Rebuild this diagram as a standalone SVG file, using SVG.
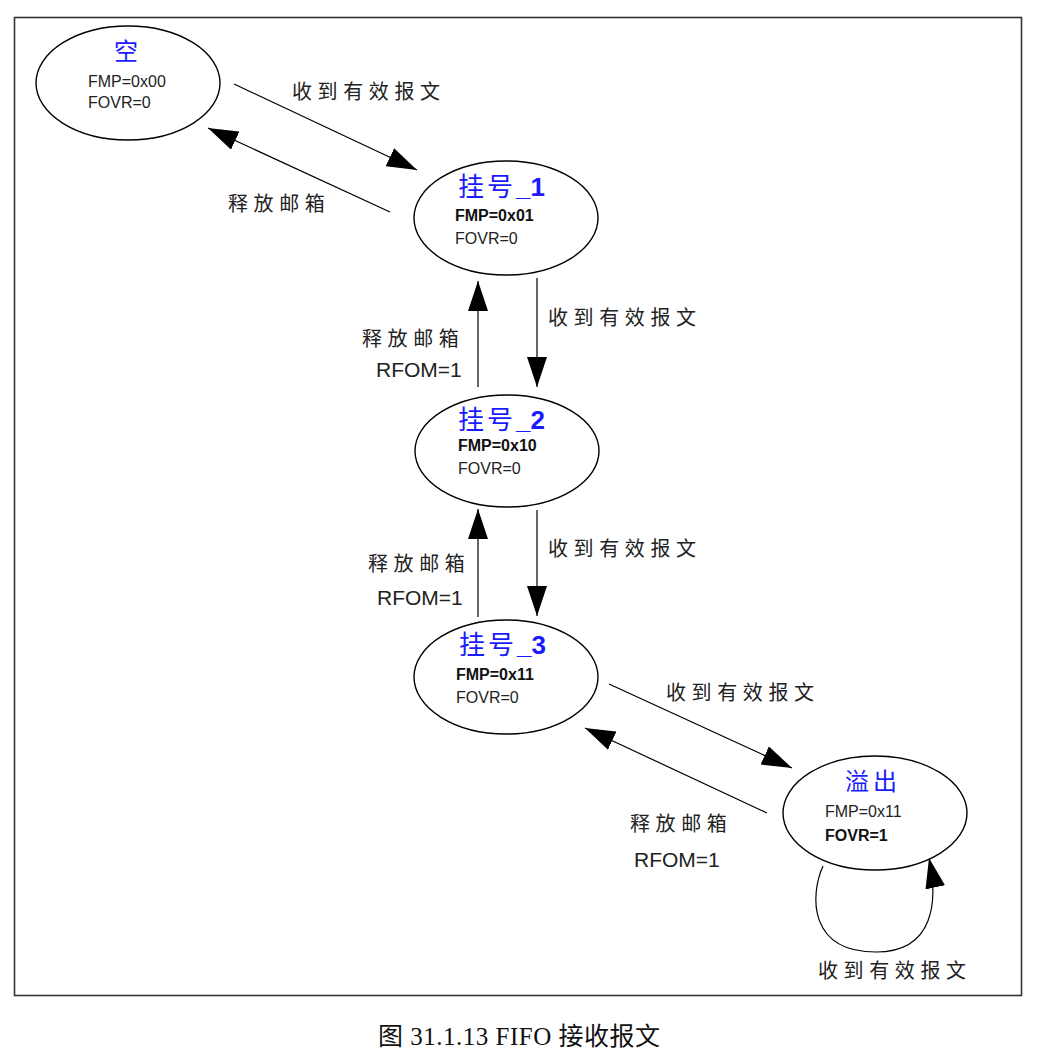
<svg xmlns="http://www.w3.org/2000/svg" width="1043" height="1052" viewBox="0 0 1043 1052">
<style>
.node{fill:#fff;stroke:#000;stroke-width:1.4}
.title{font-family:"Liberation Sans","Noto Sans CJK SC",sans-serif;font-size:26px;fill:#1a1aff;letter-spacing:3px}
.t2{font-family:"Noto Sans CJK SC",sans-serif;font-size:24px;fill:#1a1aff}
.reg{font-family:"Liberation Sans",sans-serif;font-size:16px;fill:#222}
.bold{font-weight:bold;fill:#111}
.lab{font-family:"Noto Sans CJK SC",sans-serif;font-size:20px;fill:#222;letter-spacing:5.6px}
.rf{font-family:"Liberation Sans",sans-serif;font-size:21px;fill:#222}
.conn{fill:none;stroke:#000;stroke-width:1.2}
</style>
<defs>
<marker id="ah" markerUnits="userSpaceOnUse" markerWidth="30" markerHeight="20" refX="30" refY="10" orient="auto">
<path d="M0,0 L30,10 L0,20 z" fill="#000"/>
</marker>
</defs>
<rect x="0" y="0" width="1043" height="1052" fill="#fff"/>
<rect x="14.5" y="17.5" width="1007" height="978" fill="none" stroke="#333" stroke-width="1.6"/>

<g id="connectors">
<line class="conn" x1="234" y1="84" x2="417" y2="170" marker-end="url(#ah)"/>
<line class="conn" x1="390" y1="212" x2="208" y2="128" marker-end="url(#ah)"/>
<line class="conn" x1="537" y1="278" x2="537" y2="387" marker-end="url(#ah)"/>
<line class="conn" x1="478" y1="387" x2="478" y2="281" marker-end="url(#ah)"/>
<line class="conn" x1="537" y1="510" x2="537" y2="616" marker-end="url(#ah)"/>
<line class="conn" x1="478" y1="617" x2="478" y2="509" marker-end="url(#ah)"/>
<line class="conn" x1="609" y1="684" x2="792" y2="768" marker-end="url(#ah)"/>
<line class="conn" x1="767" y1="813" x2="585" y2="728" marker-end="url(#ah)"/>
<path class="conn" d="M823,866 C810,895 808,952 876,952 C935,952 938,900 929,858" marker-end="url(#ah)"/>
<text class="lab" x="292" y="99">收到有效报文</text>
<text class="lab" x="228" y="211">释放邮箱</text>
<text class="lab" x="548" y="325">收到有效报文</text>
<text class="lab" x="362" y="346">释放邮箱</text>
<text class="rf" x="376" y="377">RFOM=1</text>
<text class="lab" x="548" y="556">收到有效报文</text>
<text class="lab" x="368" y="571">释放邮箱</text>
<text class="rf" x="377" y="605">RFOM=1</text>
<text class="lab" x="666" y="700">收到有效报文</text>
<text class="lab" x="630" y="831">释放邮箱</text>
<text class="rf" x="634" y="867">RFOM=1</text>
<text class="lab" x="818" y="978">收到有效报文</text>
</g>

<g id="empty">
<ellipse class="node" cx="128" cy="83" rx="92" ry="57"/>
<text class="t2" x="126" y="60" text-anchor="middle">空</text>
<text class="reg" x="88" y="87">FMP=0x00</text>
<text class="reg" x="88" y="108">FOVR=0</text>
</g>

<g id="pending1">
<ellipse class="node" cx="506" cy="218" rx="92" ry="57"/>
<text class="title" x="458" y="196">挂号<tspan font-weight="bold" letter-spacing="0">_1</tspan></text>
<text class="reg bold" x="455" y="221">FMP=0x01</text>
<text class="reg" x="455" y="244">FOVR=0</text>
</g>

<g id="pending2">
<ellipse class="node" cx="507" cy="451" rx="92" ry="56"/>
<text class="title" x="458" y="429">挂号<tspan font-weight="bold" letter-spacing="0">_2</tspan></text>
<text class="reg bold" x="458" y="451">FMP=0x10</text>
<text class="reg" x="458" y="474">FOVR=0</text>
</g>

<g id="pending3">
<ellipse class="node" cx="506" cy="677" rx="92" ry="57"/>
<text class="title" x="459" y="654">挂号<tspan font-weight="bold" letter-spacing="0">_3</tspan></text>
<text class="reg bold" x="456" y="680">FMP=0x11</text>
<text class="reg" x="456" y="703">FOVR=0</text>
</g>

<g id="overflow">
<ellipse class="node" cx="875" cy="813" rx="92" ry="57"/>
<text class="t2" x="845" y="790" letter-spacing="4">溢出</text>
<text class="reg" x="825" y="817">FMP=0x11</text>
<text class="reg bold" x="825" y="841">FOVR=1</text>
</g>

<text x="378" y="1045" font-family="'Liberation Serif','Noto Sans CJK SC',serif" font-size="25" fill="#111" textLength="282" lengthAdjust="spacing">图 31.1.13 FIFO 接收报文</text>
</svg>
